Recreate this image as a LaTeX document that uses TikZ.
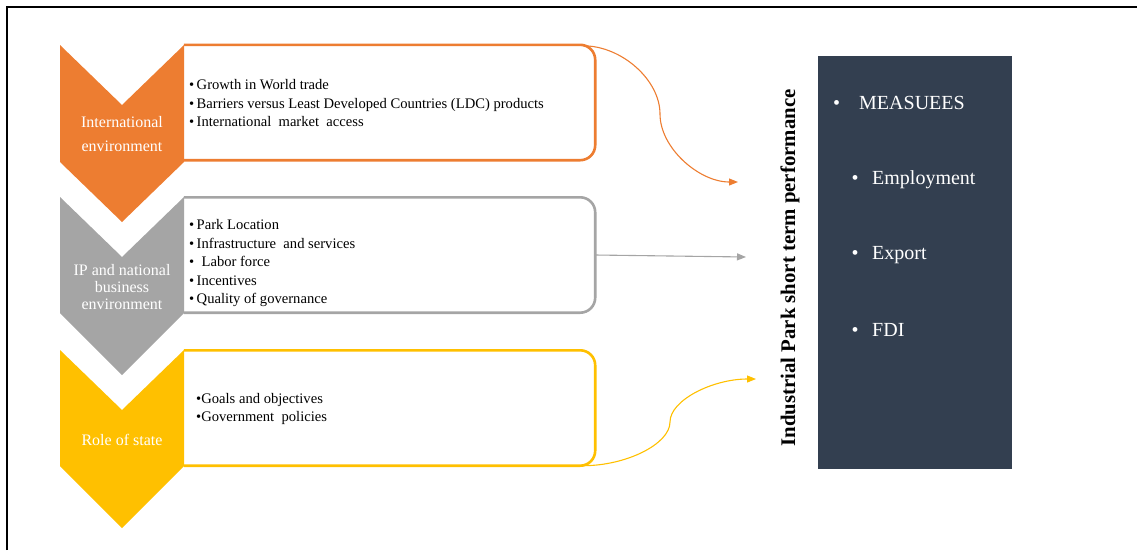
\documentclass[tikz,border=0pt]{standalone}
\usepackage{fontspec}
\setmainfont{Liberation Serif}
\usetikzlibrary{calc,arrows.meta}
\definecolor{cOrange}{HTML}{ED7D31}
\definecolor{cGray}{HTML}{A5A5A5}
\definecolor{cYellow}{HTML}{FFC000}
\definecolor{cSlate}{HTML}{333F50}

\begin{document}
\begin{tikzpicture}[x=1pt,y=-1pt,
  itembox/.style={fill=white, minimum width=411pt, minimum height=115pt, inner sep=0pt},
  boxedge/.style={draw=#1, line width=2.6pt, rounded corners=15pt},
  chevlabel/.style={text=white, align=center, inner sep=0pt,
    font=\fontsize{16}{#1}\selectfont},
  itemtext/.style={anchor=west, align=left, inner sep=0pt,
    font=\fontsize{14.6}{18.5}\selectfont},
  conn/.style={line width=1.1pt, -{Triangle[length=9pt,width=7pt]}},
  measure/.style={anchor=west, text=white, inner sep=0pt,
    font=\fontsize{20}{24}\selectfont}]
\useasboundingbox (0,0) rectangle (1137,550);

% outer frame (top and left edges)
\draw[line width=2pt] (6.5,550) -- (6.5,6.5) -- (1137,6.5);

% factor boxes: square on the chevron side, rounded on the right
\node[itembox] (b1) at (389.5,102.5) {};
\node[itembox] (b2) at (389.5,255) {};
\node[itembox] (b3) at (389.5,408) {};
\draw[boxedge=cOrange] (b1.north west) -- (b1.north east) -- (b1.south east) -- (b1.south west);
\draw[boxedge=cGray]   (b2.north west) -- (b2.north east) -- (b2.south east) -- (b2.south west);
\draw[boxedge=cYellow] (b3.north west) -- (b3.north east) -- (b3.south east) -- (b3.south west);

% chevrons
\fill[cOrange] (60,45) -- (122,105) -- (184,45) -- (184,162) -- (122,222) -- (60,162) -- cycle;
\fill[cGray]   (60,197) -- (122,257) -- (184,197) -- (184,313) -- (122,375) -- (60,313) -- cycle;
\fill[cYellow] (60,350) -- (122,410) -- (184,350) -- (184,466) -- (122,528) -- (60,466) -- cycle;

\node[chevlabel=24] (l1) at (122,134) {International\\environment};
\node[chevlabel=17] (l2) at (122,287) {IP and national\\business\\environment};
\node[chevlabel=20] (l3) at (122,440) {Role of state};

% factor lists
\node[itemtext] (t1) at (189,103) {•\,Growth in World trade\\
  •\,Barriers versus Least Developed Countries (LDC) products\\
  •\,International\ \ market\ \ access};
\node[itemtext] (t2) at (189,263.5) {•\,Park Location\\
  •\,Infrastructure\ \ and services\\
  •\ \ Labor force\\
  •\,Incentives\\
  •\,Quality of governance};
\node[itemtext] (t3) at (196,409) {•Goals and objectives\\
  •Government\ \ policies};

% performance block
\node[fill=cSlate, minimum width=194pt, minimum height=413pt, inner sep=0pt] (m) at (915,262.5) {};
\node[measure] (m0) at (833,102.5) {•\hspace{19pt}MEASUEES};
\node[measure] (m1) at (851.5,180) {•\hspace{13.5pt}Employment};
\node[measure] (m2) at (851.5,255) {•\hspace{13.5pt}Export};
\node[measure] (m3) at (851.5,329.5) {•\hspace{13.5pt}FDI};

\node[rotate=90, inner sep=0pt, font=\bfseries\fontsize{20.8}{24}\selectfont] (title) at (790,268)
  {Industrial Park short term performance};

% connectors
\coordinate (o1) at ($(b1.north east)+(-12,1)$);
\coordinate (om) at (660,114);
\coordinate (o2) at (738,182);
\draw[conn, cOrange] (o1) .. controls ($(o1)+(38.5,0)$) and ($(om)+(0,-34)$) .. (om)
  .. controls ($(om)+(0,34)$) and ($(o2)+(-39,0)$) .. (o2);

\coordinate (g2) at (746,257);
\draw[conn, cGray] (b2.east) -- (g2);

\coordinate (y1) at ($(b3.south east)+(-12,0)$);
\coordinate (ym) at (670,422);
\coordinate (y2) at (756,379);
\draw[conn, cYellow] (y1) .. controls ($(y1)+(43,0)$) and ($(ym)+(0,22)$) .. (ym)
  .. controls ($(ym)+(0,-22)$) and ($(y2)+(-43,0)$) .. (y2);
\end{tikzpicture}
\end{document}
